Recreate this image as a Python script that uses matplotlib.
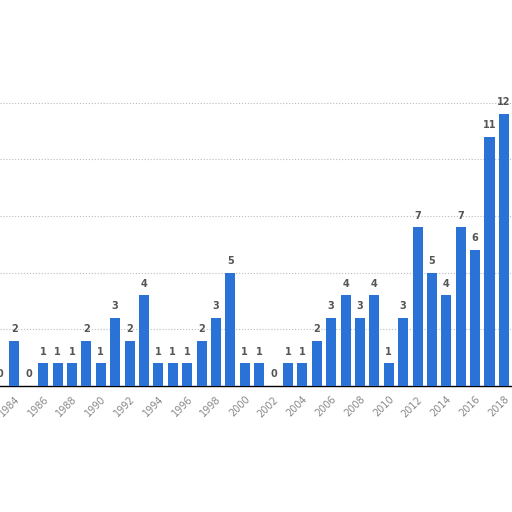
import matplotlib.pyplot as plt

years = list(range(1983, 2019))
counts = [0, 2, 0, 1, 1, 1, 2, 1, 3, 2, 4, 1, 1, 1, 2, 3, 5, 1, 1, 0,
          1, 1, 2, 3, 4, 3, 4, 1, 3, 7, 5, 4, 7, 6, 11, 12]
tick_years = list(range(1984, 2019, 2))

fig = plt.figure(figsize=(5.12, 5.12), dpi=100)
ax = fig.add_axes([0, 0.246, 1, 0.62])

ax.bar(years, counts, width=0.7, color="#2b72d7", zorder=3)
for x, v in zip(years, counts):
    ax.text(x, v + 0.3, str(v), ha="center", va="bottom", fontsize=7,
            fontweight="bold", color="#555555", zorder=4)

ax.set_xlim(1983, 2018.56)
ax.set_ylim(0, 14)
ax.set_yticks([2.5, 5, 7.5, 10, 12.5])
ax.yaxis.grid(True, linestyle=":", color="#bbbbbb", linewidth=0.8, zorder=0)
ax.tick_params(axis="y", left=False, labelleft=False)

ax.set_xticks(tick_years)
ax.set_xticklabels([str(y) for y in tick_years], rotation=45, ha="right",
                   rotation_mode="anchor", fontsize=7, color="#888888")
ax.tick_params(axis="x", length=0, pad=6)

for side in ["top", "left", "right"]:
    ax.spines[side].set_visible(False)
ax.spines["bottom"].set_color("black")
ax.spines["bottom"].set_linewidth(1)

fig.savefig("out.png", dpi=100)
